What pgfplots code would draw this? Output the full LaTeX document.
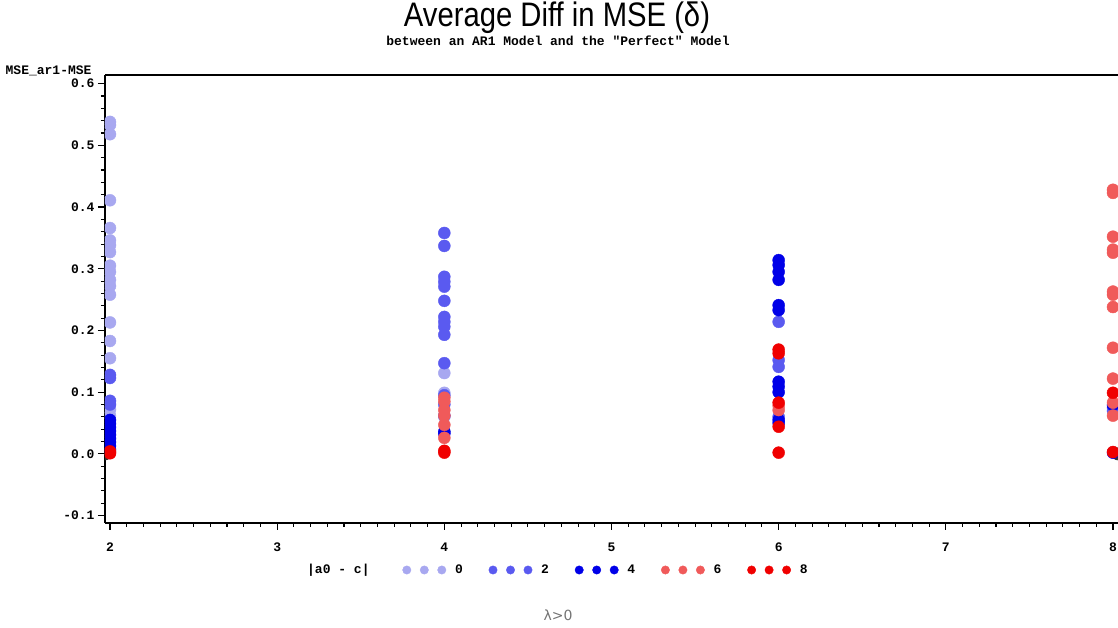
\documentclass[border=0pt]{standalone}
\usepackage{fontspec}
\setmainfont{Liberation Sans}
\newfontfamily\titlefont{Liberation Sans}[FakeStretch=0.86]
\newfontfamily\sasmono{Liberation Mono}
\newfontfamily\lblfont{DejaVu Sans}
\usepackage{pgfplots}
\pgfplotsset{compat=1.18}

% colour ramp for |a0 - c|
\definecolor{gZero}{RGB}{168,168,240}
\definecolor{gTwo}{RGB}{90,90,240}
\definecolor{gFour}{RGB}{0,0,232}
\definecolor{gSix}{RGB}{240,90,90}
\definecolor{gEight}{RGB}{240,0,0}

\newcommand{\sasfont}{\sasmono\bfseries\fontsize{13}{13}\selectfont}

\begin{document}
\begin{tikzpicture}
\useasboundingbox (-105pt,-105pt) rectangle (1013pt,523pt);
\begin{axis}[
  name=ax, at={(0pt,0pt)}, anchor=south west,
  scale only axis, width=1013pt, height=448pt,
  xmin=1.970, xmax=8.030, ymin=-0.112, ymax=0.614,
  axis lines=left,
  axis line style={-, line width=1.3pt, black},
  tick align=outside,
  major tick length=7pt, minor tick length=4pt,
  tick style={black, line width=1.1pt},
  xtick={2,3,4,5,6,7,8}, xticklabels={2,3,4,5,6,7,8},
  ytick={-0.1,0,0.1,0.2,0.3,0.4,0.5,0.6},
  yticklabels={-0.1,0.0,0.1,0.2,0.3,0.4,0.5,0.6},
  minor x tick num=9, minor y tick num=4,
  /pgf/number format/assume math mode=true,
  tick label style={font=\sasfont},
  xticklabel style={yshift=-9pt},
  ylabel={MSE\_ar1-MSE},
  every axis y label/.style={at={(rel axis cs:0,1)}, anchor=base east,
    xshift=-10pt, yshift=0pt, font=\sasfont},
  xlabel={λ>0},
  every axis x label/.style={at={(axis description cs:0.4472,-0.2054)},
    anchor=center, font=\lblfont\fontsize{14}{14}\selectfont, text=black!55},
  clip marker paths=true,
  every axis plot/.append style={only marks, mark=*, mark size=6pt},
  legend columns=6,
  legend style={at={(0.1994,-0.1049)}, anchor=west, draw=none, fill=none,
    column sep=0pt, row sep=0pt, inner sep=0pt,
    nodes={inner sep=0pt, font=\sasfont}},
  legend image code/.code={
    \path (-30pt,0pt) (48pt,0pt);
    \draw[#1, mark size=4.2pt] plot coordinates {(0pt,0pt) (17.5pt,0pt) (35pt,0pt)};
  },
]
\addlegendimage{empty legend}
\addlegendentry{|a0 - c|\hspace*{7pt}}

% reference line at zero
\addplot[forget plot, only marks=false, mark=none, black!80, line width=0.9pt]
  coordinates {(1.97,0) (8.03,0)};

% |a0 - c| = 0
\addplot[gZero] coordinates {
  (2,0.538) (2,0.533) (2,0.518) (2,0.411) (2,0.366) (2,0.346) (2,0.338)
  (2,0.327) (2,0.305) (2,0.295) (2,0.282) (2,0.272) (2,0.258) (2,0.213)
  (2,0.183) (2,0.155) (2,0.072) (2,0.062)
  (4,0.131) (4,0.099) (4,0.060)
};
\addlegendentry{0}

% |a0 - c| = 2
\addplot[gTwo] coordinates {
  (2,0.128) (2,0.123) (2,0.086) (2,0.080)
  (4,0.358) (4,0.337) (4,0.287) (4,0.279) (4,0.271) (4,0.248) (4,0.222)
  (4,0.214) (4,0.206) (4,0.193) (4,0.147) (4,0.095) (4,0.080) (4,0.062)
  (6,0.214) (6,0.152) (6,0.141) (6,0.060)
  (8,0.070) (8,0.075)
};
\addlegendentry{2}

% |a0 - c| = 4
\addplot[gFour] coordinates {
  (2,0.055) (2,0.049) (2,0.043) (2,0.037) (2,0.031) (2,0.025) (2,0.019)
  (2,0.013) (2,0.007)
  (4,0.036) (4,0.033)
  (6,0.314) (6,0.306) (6,0.295) (6,0.282) (6,0.241) (6,0.233) (6,0.117)
  (6,0.109) (6,0.100) (6,0.055) (6,0.050)
  (8,0.079) (8,0.002)
};
\addlegendentry{4}

% |a0 - c| = 6
\addplot[gSix] coordinates {
  (2,0.003)
  (4,0.091) (4,0.085) (4,0.071) (4,0.062) (4,0.047) (4,0.026)
  (6,0.071) (6,0.078)
  (8,0.428) (8,0.423) (8,0.352) (8,0.331) (8,0.326) (8,0.263) (8,0.258)
  (8,0.238) (8,0.172) (8,0.122) (8,0.083) (8,0.062)
};
\addlegendentry{6}

% |a0 - c| = 8
\addplot[gEight] coordinates {
  (2,0.001) (2,0.004)
  (4,0.002) (4,0.005)
  (6,0.169) (6,0.163) (6,0.083) (6,0.044) (6,0.002)
  (8,0.099) (8,0.003)
};
\addlegendentry{8}
\end{axis}

% frame line along the top of the plot area
\draw[line width=1.3pt, black] (ax.north west) -- (ax.north east);

% titles
\node[anchor=base, font=\titlefont\fontsize{34}{34}\selectfont] at (452pt,496pt)
  {Average Diff in MSE (δ)};
\node[anchor=base, font=\sasfont] at (453pt,477pt)
  {between an AR1 Model and the "Perfect" Model};
\end{tikzpicture}
\end{document}
